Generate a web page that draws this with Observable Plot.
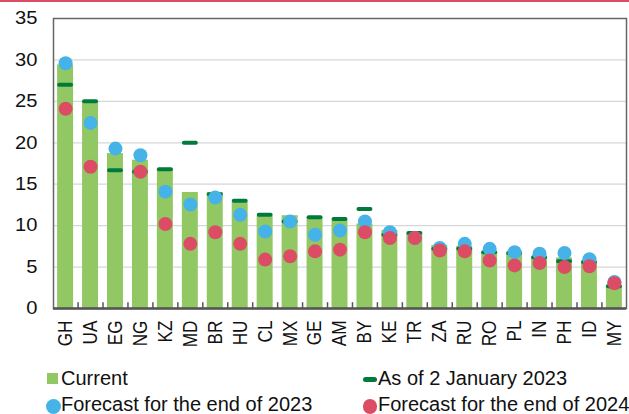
<!DOCTYPE html>
<html><head><meta charset="utf-8">
<script src="https://cdn.jsdelivr.net/npm/d3@7"></script>
<script src="https://cdn.jsdelivr.net/npm/@observablehq/plot@0.6"></script>
<style>
body{margin:0;background:#fff;font-family:"Liberation Sans",Arial,sans-serif;}
#wrap{position:relative;width:629px;height:414px;overflow:hidden;}
#topline{position:absolute;left:0;top:0;width:629px;height:2px;background:#dc4c64;}
#chart{position:absolute;left:0;top:0;}
.leg{position:absolute;font-size:20px;color:#111;white-space:nowrap;line-height:17px;}
.mk{position:absolute;}
</style></head>
<body><div id="wrap"><div id="chart"></div><div id="topline"></div>
<div class="mk" style="left:47px;top:373px;width:11px;height:11px;background:#92c864"></div>
<div class="leg" style="left:61px;top:370.3px">Current</div>
<div class="mk" style="left:363px;top:377px;width:14px;height:5px;border-radius:2.5px;background:#007a3d"></div>
<div class="leg" style="left:378px;top:370.3px">As of 2 January 2023</div>
<div class="mk" style="left:45.5px;top:398.5px;width:15px;height:15px;border-radius:50%;background:#45b2e8"></div>
<div class="leg" style="left:61px;top:396.2px">Forecast for the end of 2023</div>
<div class="mk" style="left:362.5px;top:399px;width:14.5px;height:14.5px;border-radius:50%;background:#dc4c64"></div>
<div class="leg" style="left:378px;top:396.2px">Forecast for the end of 2024</div>
</div>
<script>
const categories = ["GH","UA","EG","NG","KZ","MD","BR","HU","CL","MX","GE","AM","BY","KE","TR","ZA","RU","RO","PL","IN","PH","ID","MY"];
const current   = [29.4,25.0,18.7,17.9,16.9,14.0,14.0,12.8,11.1,11.2,10.8,10.6,10.2,9.4,9.0,7.6,7.5,6.8,6.6,6.1,6.1,5.6,2.8];
const jan2023   = [27.0,25.0,16.7,16.5,16.8,20.0,13.8,13.0,11.3,10.5,11.0,10.8,12.0,8.9,9.1,7.2,7.2,6.8,6.7,6.2,5.7,5.6,2.7];
const fc2023    = [29.6,22.4,19.3,18.5,14.1,12.55,13.4,11.3,9.3,10.5,8.9,9.4,10.5,9.2,8.5,7.3,7.8,7.2,6.8,6.6,6.7,5.95,3.2];
const fc2024    = [24.1,17.1,null,16.5,10.2,7.8,9.2,7.8,5.9,6.3,6.9,7.1,9.2,8.5,8.5,7.0,6.9,5.8,5.2,5.5,5.0,5.1,3.05];
const yTicks = [0,5,10,15,20,25,30,35];

const rows = categories.map((c,i)=>({c, cur:current[i], jan:jan2023[i], f23:fc2023[i], f24:fc2024[i]}));

const W = 629, ML = 53, MR = 3;
const pIn = 0.36, pOut = 0.165;
const step = (W - ML - MR) / (categories.length - pIn + 2*pOut);

const plot = Plot.plot({
  width: W, height: 360,
  marginLeft: ML, marginRight: MR, marginTop: 18, marginBottom: 52,
  style: {fontFamily: '"Liberation Sans",Arial,sans-serif', fontSize: "18px", color:"#111"},
  x: {type:"band", domain: categories, paddingInner: pIn, paddingOuter: pOut, round: false, label: null},
  y: {domain:[0,35], ticks: yTicks, label: null},
  marks: [
    Plot.ruleY(yTicks.filter(d=>d>0 && d<35), {stroke:"#d4d8d8", strokeWidth:1.2}),
    Plot.barY(rows, {x:"c", y:"cur", fill:"#92c864"}),
    Plot.tickY(rows, {x:"c", y:"jan", stroke:"#007a3d", strokeWidth:4, strokeLinecap:"round", insetLeft:2, insetRight:2}),
    Plot.dot(rows.filter(d=>d.f23!=null), {x:"c", y:"f23", r:7, fill:"#45b2e8"}),
    Plot.dot(rows.filter(d=>d.f24!=null), {x:"c", y:"f24", r:7, fill:"#dc4c64"}),
    Plot.frame({stroke:"#666", strokeWidth:1.5}),
    Plot.ruleX(categories.slice(0,-1), {x: d=>d, y1: 0, y2: 0.7, dx: step/2, stroke:"#555", strokeWidth:1.5}),
    Plot.ruleY([0], {stroke:"#555", strokeWidth:2.5}),
    Plot.axisY({ticks: yTicks, tickSize:0, tickPadding:16, fontSize:18, tickFormat:d=>d, className:"yax"}),
    Plot.axisX({tickSize:0, tickRotate:-90, tickPadding:12, fontSize:20, className:"xax"})
  ]
});
document.getElementById("chart").appendChild(plot);
// slight stretch of tick label shapes to match the reference's font proportions
plot.querySelectorAll(".yax text").forEach(t=>{
  const tr = t.getAttribute("transform") || "";
  t.setAttribute("transform", tr + " scale(1.12,1)");
});
plot.querySelectorAll(".xax text").forEach(t=>{
  const tr = t.getAttribute("transform") || "";
  t.setAttribute("transform", tr + " scale(0.86,1)");
});
</script></body></html>
